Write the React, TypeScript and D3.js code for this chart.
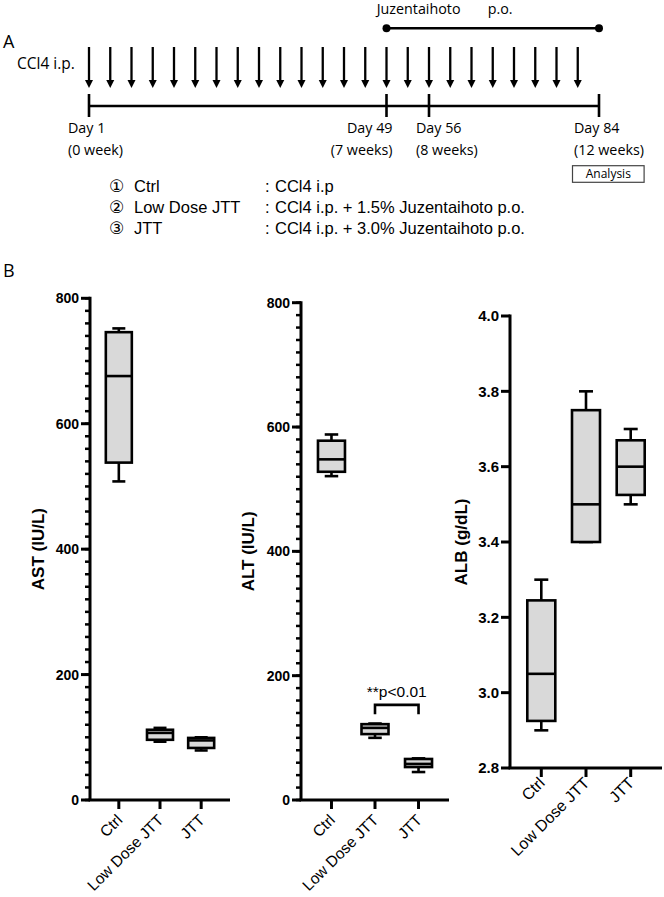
import React from 'react';
import * as d3 from 'd3';

// ---------- Panel A data ----------
const ccl4Weeks = [0, 0.5, 1, 1.5, 2, 2.5, 3, 3.5, 4, 4.5, 5, 5.5, 6, 6.5, 7, 7.5, 8, 8.5, 9, 9.5, 10, 10.5, 11, 11.5];
const timelineWeeks = [0, 7, 8, 12];
const timelineDayLabels = ['Day 1', 'Day 49', 'Day 56', 'Day 84'];
const timelineWeekLabels = ['(0 week)', '(7 weeks)', '(8 weeks)', '(12 weeks)'];
const jttPeriod = [7, 12];
const groupNums = ['①', '②', '③'];
const groupNames = ['Ctrl', 'Low Dose JTT', 'JTT'];
const groupTreatments = ['CCl4 i.p', 'CCl4 i.p. + 1.5% Juzentaihoto p.o.', 'CCl4 i.p. + 3.0% Juzentaihoto p.o.'];

// ---------- Panel B data ----------
const categories = ['Ctrl', 'Low Dose JTT', 'JTT'];
// [min, q1, median, q3, max]
const astStats = [[508, 538, 676, 746, 752], [93, 96, 107, 112, 115], [79, 83, 95, 99, 100]];
const altStats = [[521, 528, 548, 578, 588], [100, 106, 116, 122, 123], [45, 53, 58, 66, 67]];
const albStats = [[2.9, 2.925, 3.05, 3.245, 3.3], [3.4, 3.4, 3.5, 3.75, 3.8], [3.5, 3.525, 3.6, 3.67, 3.7]];
const astTicks = [0, 200, 400, 600, 800];
const altTicks = [0, 200, 400, 600, 800];
const albTicks = [2.8, 3.0, 3.2, 3.4, 3.6, 3.8, 4.0];
const altSignificance = { from: 'Low Dose JTT', to: 'JTT', top: 153, leg: 138, text: '**p<0.01' };

// ---------- layout ----------
const dayLabelLayout = [
  { anchor: 'start', dx: -21 },
  { anchor: 'end', dx: 6 },
  { anchor: 'start', dx: -13 },
  { anchor: 'start', dx: -25 },
];

const OPEN = "'Open Sans', 'DejaVu Sans', sans-serif";
const ARIAL = "'Liberation Sans', Arial, sans-serif";
const SYM = "'DejaVu Sans', sans-serif";

type PanelProps = {
  stats: number[][];
  domain: [number, number];
  ticks: number[];
  minorStep?: number;
  fmt: (v: number) => string;
  axisX: number;
  xEnd: number;
  yTop: number;
  yBottom: number;
  boxW: number;
  label: string;
  labelDx: number;
  tickFont: number;
  catFont: number;
  catDy: number;
  sig?: typeof altSignificance;
};

function BoxPanel(p: PanelProps) {
  const y = d3.scaleLinear().domain(p.domain).range([p.yBottom, p.yTop]);
  const x = d3.scalePoint<string>().domain(categories).range([p.axisX, p.xEnd]).padding(0.7);
  const minor = p.minorStep ? d3.range(p.domain[0], p.domain[1] + 1e-9, p.minorStep) : [];
  const cx = p.axisX - p.labelDx;
  const cy = (p.yTop + p.yBottom) / 2;
  return (
    <g>
      {/* y axis */}
      <line x1={p.axisX} x2={p.axisX} y1={p.yBottom} y2={p.yTop - 1.5} stroke="#000" strokeWidth={3} />
      {minor.map((t, i) => (
        <line key={'m' + i} x1={p.axisX - 5} x2={p.axisX} y1={y(t)} y2={y(t)} stroke="#000" strokeWidth={2.5} />
      ))}
      {p.ticks.map((t, i) => (
        <g key={'t' + i}>
          <line x1={p.axisX - 9} x2={p.axisX} y1={y(t)} y2={y(t)} stroke="#000" strokeWidth={3} />
          <text x={p.axisX - 11} y={y(t)} dy="0.36em" textAnchor="end" fontFamily={ARIAL} fontWeight="bold" fontSize={p.tickFont}>
            {p.fmt(t)}
          </text>
        </g>
      ))}
      {/* x axis */}
      <line x1={p.axisX - 1.5} x2={p.xEnd} y1={p.yBottom} y2={p.yBottom} stroke="#000" strokeWidth={3} />
      {categories.map((c) => (
        <g key={c}>
          <line x1={x(c)!} x2={x(c)!} y1={p.yBottom} y2={p.yBottom + 9} stroke="#000" strokeWidth={3} />
          <text transform={`translate(${x(c)! + 4.5},${p.yBottom + p.catDy}) rotate(-45)`} textAnchor="end" fontFamily={ARIAL} fontSize={p.catFont}>
            {c}
          </text>
        </g>
      ))}
      {/* boxes */}
      {p.stats.map((s, i) => {
        const c = categories[i];
        const xc = x(c)!;
        const [mn, q1, md, q3, mx] = s;
        const hw = p.boxW / 2;
        return (
          <g key={'b' + i} stroke="#000" strokeWidth={2.6}>
            <line x1={xc} x2={xc} y1={y(mn)} y2={y(mx)} />
            <line x1={xc - hw / 2} x2={xc + hw / 2} y1={y(mn)} y2={y(mn)} />
            <line x1={xc - hw / 2} x2={xc + hw / 2} y1={y(mx)} y2={y(mx)} />
            <rect x={xc - hw} width={p.boxW} y={y(q3)} height={y(q1) - y(q3)} fill="#d9d9d9" />
            <line x1={xc - hw} x2={xc + hw} y1={y(md)} y2={y(md)} />
          </g>
        );
      })}
      {p.sig && (
        <g>
          <path
            d={`M${x(p.sig.from)!},${y(p.sig.leg)}V${y(p.sig.top)}H${x(p.sig.to)!}V${y(p.sig.leg)}`}
            fill="none"
            stroke="#000"
            strokeWidth={2.6}
          />
          <text x={(x(p.sig.from)! + x(p.sig.to)!) / 2} y={y(p.sig.top) - 8} textAnchor="middle" fontFamily={ARIAL} fontSize={15.5}>
            {p.sig.text}
          </text>
        </g>
      )}
      <text transform={`translate(${cx},${cy}) rotate(-90)`} dy="0.36em" textAnchor="middle" fontFamily={ARIAL} fontWeight="bold" fontSize={17}>
        {p.label}
      </text>
    </g>
  );
}

export default function App() {
  const wx = d3.scaleLinear().domain([0, 12]).range([89, 599]);
  const arrowTop = 47;
  const arrowTip = 88;
  const lineY = 106;
  const jttY = 28.3;
  const fmtInt = d3.format('d');
  const fmt1 = d3.format('.1f');
  return (
    <svg width={664} height={897} style={{ position: 'absolute', left: 0, top: 0, background: '#fff' }}>
      <rect width={664} height={897} fill="#fff" />
      {/* ---------- Panel A ---------- */}
      <text x={3} y={48} fontFamily={OPEN} fontSize={18}>A</text>
      <text x={17} y={68.5} fontFamily={OPEN} fontSize={15.5}>CCl4 i.p.</text>
      {ccl4Weeks.map((w, i) => (
        <g key={'a' + i}>
          <line x1={wx(w)} x2={wx(w)} y1={arrowTop} y2={arrowTip - 7} stroke="#000" strokeWidth={2.3} />
          <path d={`M${wx(w) - 4},${arrowTip - 8}L${wx(w) + 4},${arrowTip - 8}L${wx(w)},${arrowTip}Z`} fill="#000" />
        </g>
      ))}
      <line x1={wx(0)} x2={wx(12)} y1={lineY} y2={lineY} stroke="#000" strokeWidth={2.6} />
      {timelineWeeks.map((w, i) => {
        const L = dayLabelLayout[i];
        return (
          <g key={'d' + i}>
            <line x1={wx(w)} x2={wx(w)} y1={94} y2={117} stroke="#000" strokeWidth={2.6} />
            <text x={wx(w) + L.dx} y={133.3} textAnchor={L.anchor as any} fontFamily={OPEN} fontSize={14.3}>
              {timelineDayLabels[i]}
            </text>
            <text x={wx(w) + L.dx} y={155} textAnchor={L.anchor as any} fontFamily={OPEN} fontSize={14.3}>
              {timelineWeekLabels[i]}
            </text>
          </g>
        );
      })}
      <line x1={wx(jttPeriod[0])} x2={wx(jttPeriod[1])} y1={jttY} y2={jttY} stroke="#000" strokeWidth={2.6} />
      <circle cx={wx(jttPeriod[0])} cy={jttY} r={4} fill="#000" />
      <circle cx={wx(jttPeriod[1])} cy={jttY} r={4} fill="#000" />
      <text x={376.7} y={14} fontFamily={OPEN} fontSize={14.3}>Juzentaihoto</text>
      <text x={487.7} y={14} fontFamily={OPEN} fontSize={14.3}>p.o.</text>
      <rect x={wx(12) - 26.5} y={165.7} width={71.6} height={16.6} fill="none" stroke="#444" strokeWidth={1.2} />
      <text x={wx(12) + 9.3} y={178.3} textAnchor="middle" fontFamily={OPEN} fontSize={12}>Analysis</text>
      {groupNames.map((g, i) => (
        <g key={'g' + i} fontFamily={ARIAL} fontSize={16.5}>
          <text x={109} y={192 + i * 20.9} fontFamily={SYM} fontSize={17}>{groupNums[i]}</text>
          <text x={134} y={192 + i * 20.9}>{g}</text>
          <text x={265} y={192 + i * 20.9}>:</text>
          <text x={275} y={192 + i * 20.9}>{groupTreatments[i]}</text>
        </g>
      ))}
      {/* ---------- Panel B ---------- */}
      <text x={3} y={277} fontFamily={OPEN} fontSize={18}>B</text>
      <BoxPanel
        stats={astStats}
        domain={[0, 800]}
        ticks={astTicks}
        minorStep={20}
        fmt={fmtInt}
        axisX={90}
        xEnd={230}
        yTop={298.3}
        yBottom={800}
        boxW={26}
        label="AST (IU/L)"
        labelDx={52}
        tickFont={14}
        catFont={15.5}
        catDy={21}
      />
      <BoxPanel
        stats={altStats}
        domain={[0, 800]}
        ticks={altTicks}
        minorStep={20}
        fmt={fmtInt}
        axisX={301}
        xEnd={449}
        yTop={302.7}
        yBottom={800}
        boxW={27}
        label="ALT (IU/L)"
        labelDx={53}
        tickFont={14}
        catFont={15.5}
        catDy={21}
        sig={altSignificance}
      />
      <BoxPanel
        stats={albStats}
        domain={[2.8, 4.0]}
        ticks={albTicks}
        fmt={fmt1}
        axisX={510}
        xEnd={662}
        yTop={316}
        yBottom={768}
        boxW={28}
        label="ALB (g/dL)"
        labelDx={49}
        tickFont={15}
        catFont={16}
        catDy={16}
      />
    </svg>
  );
}
